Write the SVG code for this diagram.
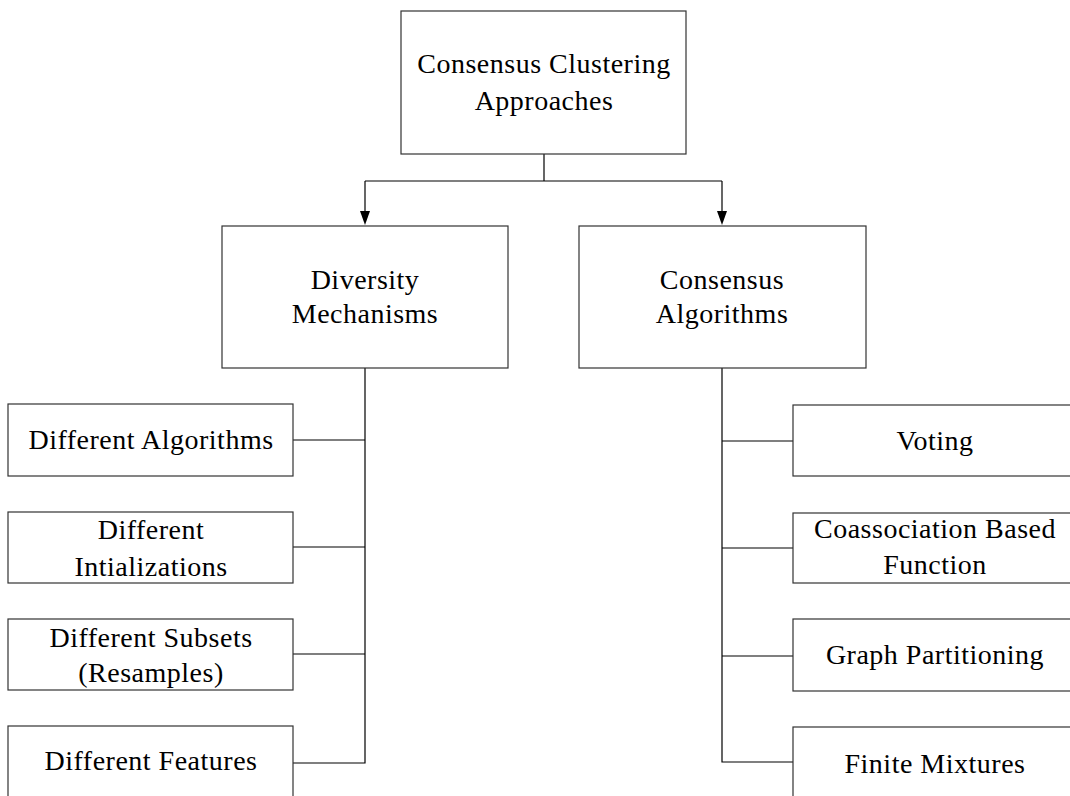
<svg xmlns="http://www.w3.org/2000/svg" width="1070" height="796" viewBox="0 0 1070 796">
<style>
.box{fill:#fff;stroke:#333;stroke-width:1.2}
.t{font-family:"Liberation Serif","Times New Roman",serif;font-size:28px;letter-spacing:0.5px;fill:#000;text-anchor:middle}
.c{fill:none;stroke:#000;stroke-width:1.2}
</style>
<defs>
<marker id="ah" viewBox="0 0 10 14" refX="5" refY="14" markerWidth="10" markerHeight="14" markerUnits="userSpaceOnUse" orient="auto-start-reverse">
<path d="M0,0 L10,0 L5,14 Z" fill="#000"/>
</marker>
</defs>
<rect width="1070" height="796" fill="#fff"/>
<g id="connectors">
<path class="c" d="M544,154 V181"/>
<path class="c" d="M365,181 H722"/>
<path class="c" d="M365,181 V211" />
<path d="M360,211 L370,211 L365,225 Z" fill="#000"/>
<path class="c" d="M722,181 V211"/>
<path d="M717,211 L727,211 L722,225 Z" fill="#000"/>
<path class="c" d="M365,368 V763 H293"/>
<path class="c" d="M365,440 H293"/>
<path class="c" d="M365,547 H293"/>
<path class="c" d="M365,654 H293"/>
<path class="c" d="M722,368 V762 H793"/>
<path class="c" d="M722,441 H793"/>
<path class="c" d="M722,548 H793"/>
<path class="c" d="M722,656 H793"/>
</g>
<g id="root">
<rect class="box" x="401" y="11" width="285" height="143"/>
<text class="t" x="544" y="73">Consensus Clustering</text>
<text class="t" x="544" y="110">Approaches</text>
</g>
<g id="diversity">
<rect class="box" x="222" y="226" width="286" height="142"/>
<text class="t" x="365" y="289">Diversity</text>
<text class="t" x="365" y="323">Mechanisms</text>
</g>
<g id="consensus">
<rect class="box" x="579" y="226" width="287" height="142"/>
<text class="t" x="722" y="289">Consensus</text>
<text class="t" x="722" y="323">Algorithms</text>
</g>
<g id="diff-algorithms">
<rect class="box" x="8" y="404" width="285" height="72"/>
<text class="t" x="151" y="449">Different Algorithms</text>
</g>
<g id="diff-init">
<rect class="box" x="8" y="512" width="285" height="71"/>
<text class="t" x="151" y="539">Different</text>
<text class="t" x="151" y="576">Intializations</text>
</g>
<g id="diff-subsets">
<rect class="box" x="8" y="619" width="285" height="71"/>
<text class="t" x="151" y="647">Different Subsets</text>
<text class="t" x="151" y="682">(Resamples)</text>
</g>
<g id="diff-features">
<rect class="box" x="8" y="726" width="285" height="90"/>
<text class="t" x="151" y="770">Different Features</text>
</g>
<g id="voting">
<rect class="box" x="793" y="405" width="290" height="71"/>
<text class="t" x="935" y="450">Voting</text>
</g>
<g id="coassociation">
<rect class="box" x="793" y="513" width="290" height="70"/>
<text class="t" x="935" y="538">Coassociation Based</text>
<text class="t" x="935" y="574">Function</text>
</g>
<g id="graph">
<rect class="box" x="793" y="619" width="290" height="72"/>
<text class="t" x="935" y="664">Graph Partitioning</text>
</g>
<g id="finite">
<rect class="box" x="793" y="727" width="290" height="90"/>
<text class="t" x="935" y="773">Finite Mixtures</text>
</g>
</svg>
